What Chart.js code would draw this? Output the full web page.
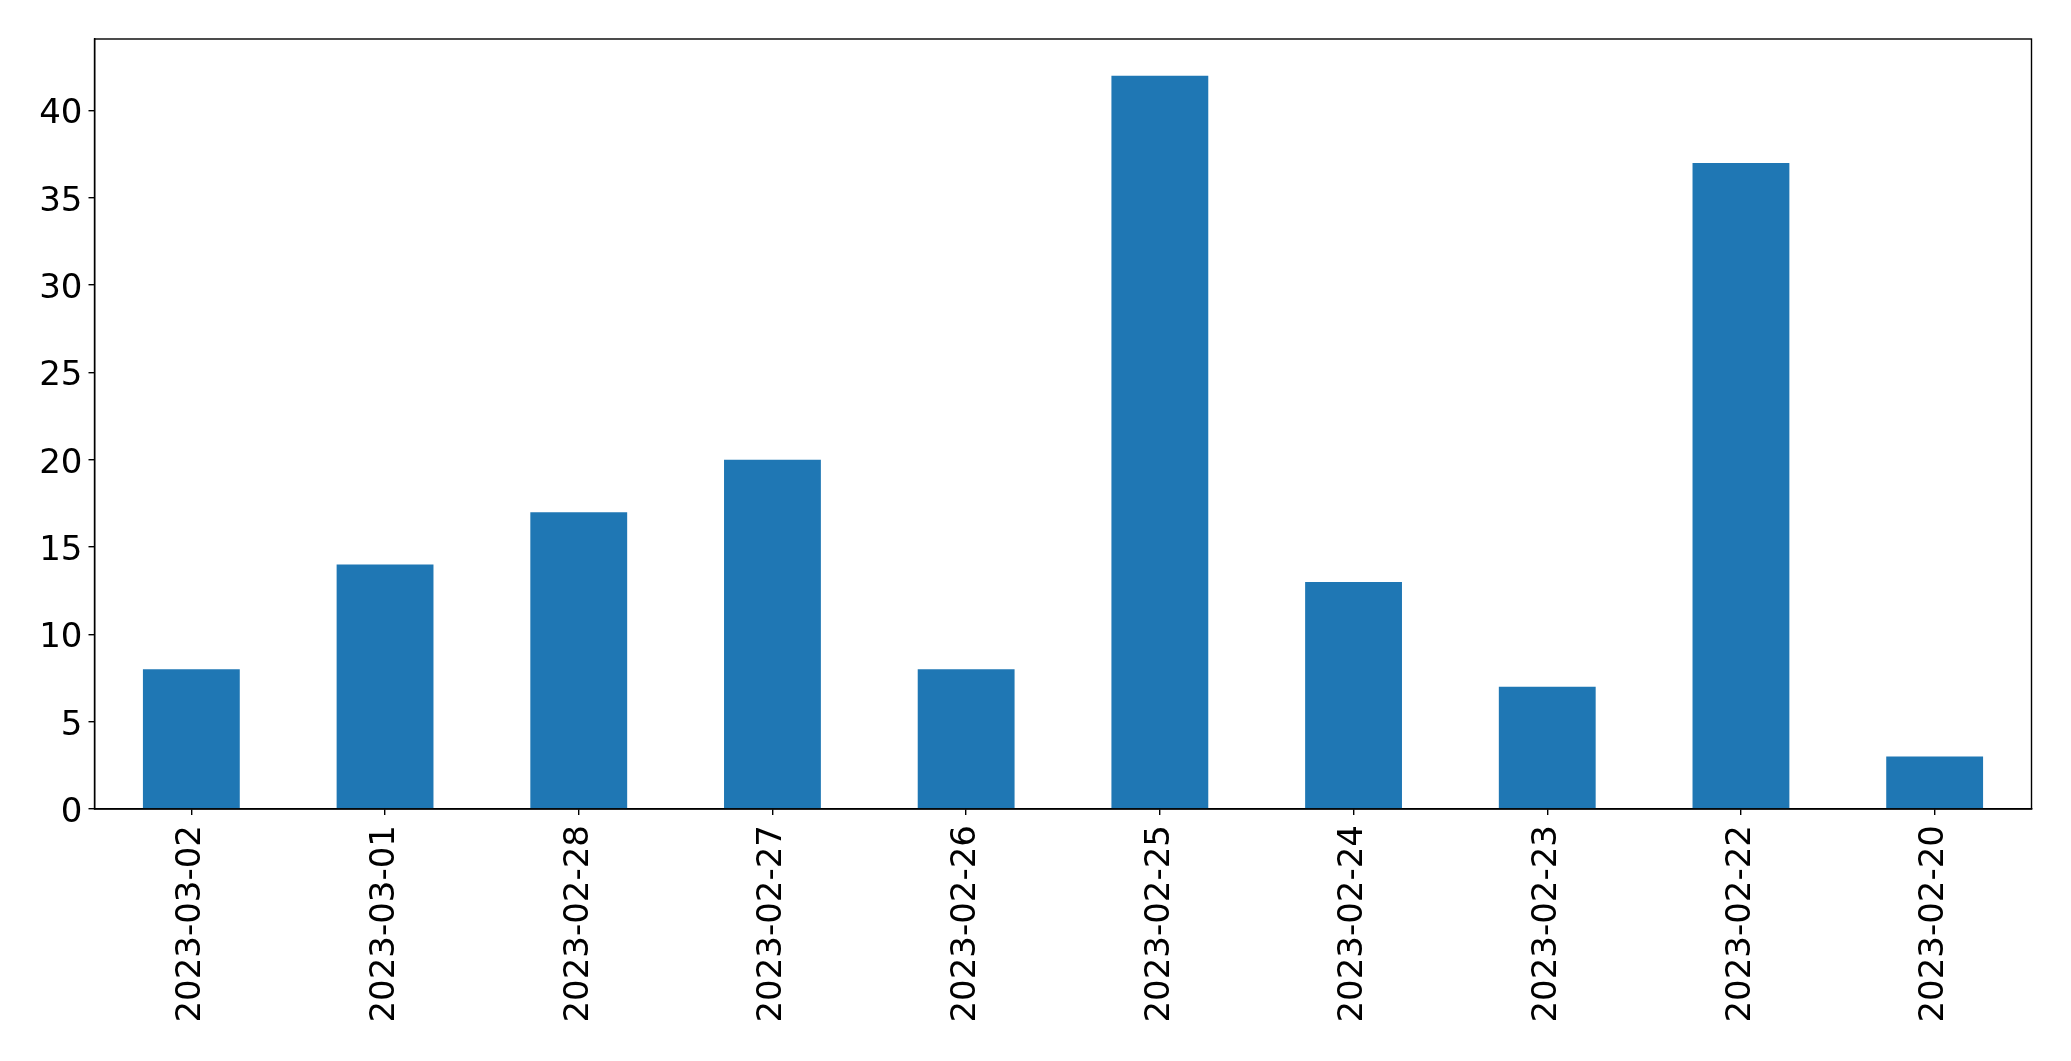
<!DOCTYPE html>
<html>
<head>
<meta charset="utf-8">
<script src="https://cdn.jsdelivr.net/npm/chart.js@4"></script>
<style>
  html, body { margin: 0; padding: 0; background: #fff; }
  #wrap { width: 2071px; height: 1061px; }
</style>
</head>
<body>
<div id="wrap"><canvas id="barChart" width="2071" height="1061"></canvas></div>
<script>
// Chart data
const dates = ['2023-03-02', '2023-03-01', '2023-02-28', '2023-02-27', '2023-02-26',
               '2023-02-25', '2023-02-24', '2023-02-23', '2023-02-22', '2023-02-20'];
const counts = [8, 14, 17, 20, 8, 42, 13, 7, 37, 3];
const yTicks = [0, 5, 10, 15, 20, 25, 30, 35, 40];

const fontSpec = { family: 'DejaVu Sans', size: 34 };

// Box around the plot area (matplotlib style frame)
const frame = {
    id: 'frame',
    afterDraw(chart) {
        const { ctx, chartArea: a } = chart;
        ctx.save();
        ctx.strokeStyle = '#000';
        ctx.lineWidth = 1.4;
        ctx.strokeRect(a.left, a.top, a.right - a.left, a.bottom - a.top);
        ctx.restore();
    }
};

new Chart(document.getElementById('barChart'), {
    type: 'bar',
    data: {
        labels: dates,
        datasets: [{
            data: counts,
            backgroundColor: '#1f77b4',
            borderWidth: 0,
            categoryPercentage: 1.0,
            barPercentage: 0.5
        }]
    },
    options: {
        responsive: false,
        animation: false,
        devicePixelRatio: 1,
        layout: { padding: { top: 39, right: 39.5, left: 0, bottom: 0 } },
        plugins: {
            legend: { display: false },
            tooltip: { enabled: false }
        },
        scales: {
            x: {
                grid: { display: true, drawOnChartArea: false, drawTicks: true, tickLength: 6, color: '#000', lineWidth: 1.4, offset: false },
                border: { display: true, color: '#000', width: 1.4 },
                ticks: {
                    color: '#000',
                    font: fontSpec,
                    minRotation: 90,
                    maxRotation: 90,
                    autoSkip: false,
                    padding: 10
                },
                afterFit(scale) { scale.height = 252; }
            },
            y: {
                min: 0,
                max: 44.1,
                grid: { display: true, drawOnChartArea: false, drawTicks: true, tickLength: 6, color: '#000', lineWidth: 1.4 },
                border: { display: true, color: '#000', width: 1.4 },
                afterBuildTicks(scale) {
                    scale.ticks = yTicks.map(v => ({ value: v }));
                },
                ticks: {
                    color: '#000',
                    font: fontSpec,
                    padding: 6,
                    labelOffset: 4
                },
                afterFit(scale) { scale.width = 94.5; }
            }
        }
    },
    plugins: [frame]
});
</script>
</body>
</html>
